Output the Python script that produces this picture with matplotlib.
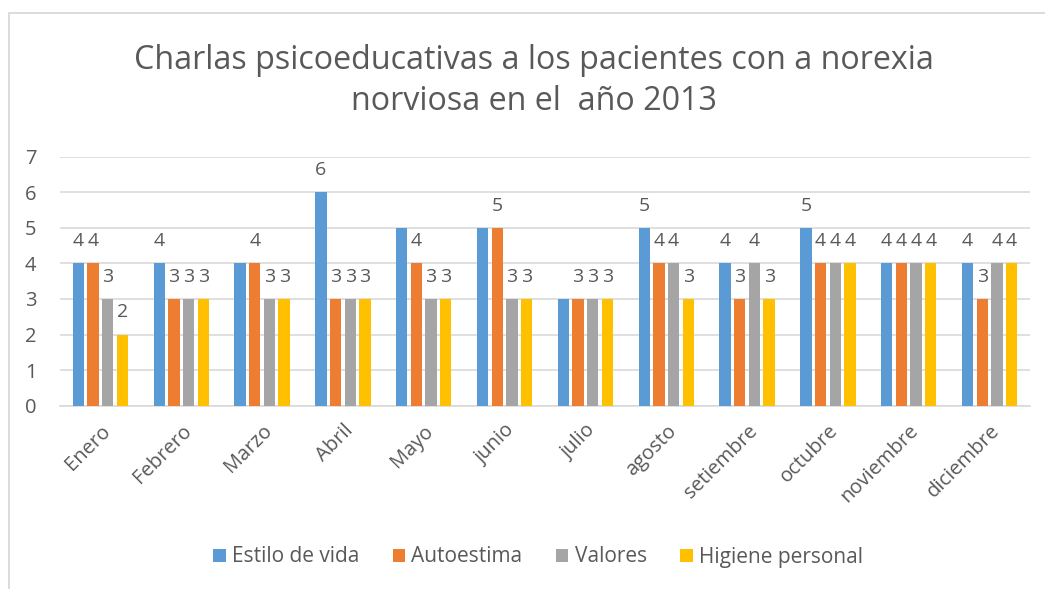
import matplotlib
matplotlib.use("Agg")
import matplotlib.pyplot as plt
from matplotlib.patches import Rectangle
import numpy as np

months = ["Enero", "Febrero", "Marzo", "Abril", "Mayo", "junio", "julio",
          "agosto", "setiembre", "octubre", "noviembre", "diciembre"]
series_names = ["Estilo de vida", "Autoestima", "Valores", "Higiene personal"]
estilo = [4, 4, 4, 6, 5, 5, 3, 5, 4, 5, 4, 4]
autoestima = [4, 3, 4, 3, 4, 5, 3, 4, 3, 4, 4, 3]
valores = [3, 3, 3, 3, 3, 3, 3, 4, 4, 4, 4, 4]
higiene = [2, 3, 3, 3, 3, 3, 3, 3, 3, 4, 4, 4]
# which data labels are visible in the reference (Excel hid some)
show_estilo = [1, 1, 0, 1, 0, 0, 0, 1, 1, 1, 1, 1]
show_other = [1] * 12

colors = ["#5B9BD5", "#ED7D31", "#A5A5A5", "#FFC000"]
text_color = "#595959"

plt.rcParams['font.family'] = ['Open Sans', 'DejaVu Sans']

W, H = 1045, 589
fig = plt.figure(figsize=(W / 100, H / 100), dpi=100)

# chart border
fig.patches.append(Rectangle((9 / W, -0.01), 1.1, (H - 12.5) / H + 0.01,
                             transform=fig.transFigure, fill=False,
                             edgecolor="#D9D9D9", linewidth=1.3))

left, right = 60, 1030
top, bottom = 156.7, 405.7
ax = fig.add_axes([left / W, 1 - bottom / H, (right - left) / W, (bottom - top) / H])

data = [estilo, autoestima, valores, higiene]
shows = [show_estilo, show_other, show_other, show_other]
x = np.arange(len(months))
step = 0.182
bw = 0.14
for i, (vals, name, c, sh) in enumerate(zip(data, series_names, colors, shows)):
    xs = x + (i - 1.5) * step
    ax.bar(xs, vals, width=bw, color=c, label=name, zorder=3)
    for xi, v, s in zip(xs, vals, sh):
        if s:
            ax.text(xi, v + 0.37, str(v), ha="center", va="bottom",
                    fontsize=14, color=text_color, zorder=4)

ax.set_xlim(-0.5, len(months) - 0.5)
ax.set_ylim(0, 7)
ax.set_yticks(range(0, 8))
ax.grid(axis="y", color="#D9D9D9", linewidth=1.2, zorder=0)
for s in ["top", "right", "left"]:
    ax.spines[s].set_visible(False)
ax.spines["bottom"].set_color("#D9D9D9")
ax.spines["bottom"].set_linewidth(1.2)
ax.tick_params(axis="both", length=0, colors=text_color, labelsize=14.5)
ax.tick_params(axis="y", pad=17)
ax.set_xticks(x)
ax.set_xticklabels(months, rotation=45, ha="right", rotation_mode="anchor")
ax.tick_params(axis="x", pad=11)

fig.text(534 / W, 1 - 81 / H, "Charlas psicoeducativas a los pacientes con a norexia\nnorviosa en el  año 2013",
         ha="center", va="center", fontsize=23.2, color=text_color, linespacing=1.3)

leg = fig.legend(loc="center", bbox_to_anchor=(538 / W, 1 - 557 / H), ncol=4,
                 frameon=False, fontsize=15, handlelength=0.6, handleheight=0.6,
                 handletextpad=0.3, columnspacing=1.6, labelcolor=text_color)

fig.savefig("out.png", dpi=100)
